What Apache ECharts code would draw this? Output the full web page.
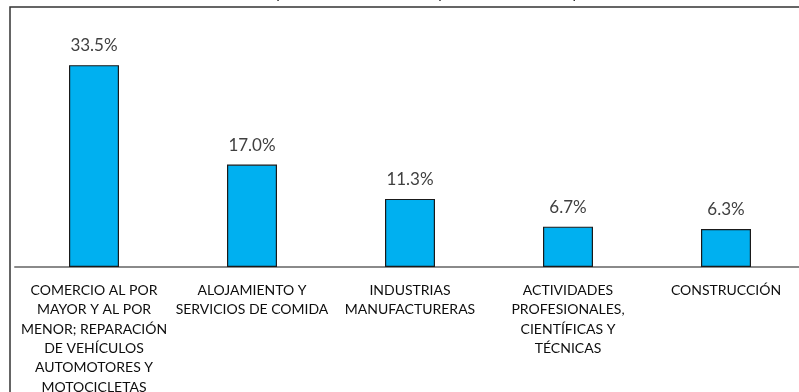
<!DOCTYPE html>
<html>
<head>
<meta charset="utf-8">
<script src="https://cdn.jsdelivr.net/npm/echarts@6/dist/echarts.min.js"></script>
<style>
html,body{margin:0;padding:0;background:#fff;overflow:hidden;width:799px;height:392px;}
#chart{width:820px;height:392px;}
</style>
</head>
<body>
<div id="chart"></div>
<script>
const titleText = "Gráfico 4: Actividades con mayor número de unidades productivas creadas por actividad económica";
const categories = [
  "COMERCIO AL POR\nMAYOR Y AL POR\nMENOR; REPARACIÓN\nDE VEHÍCULOS\nAUTOMOTORES Y\nMOTOCICLETAS",
  "ALOJAMIENTO Y\nSERVICIOS DE COMIDA",
  "INDUSTRIAS\nMANUFACTURERAS",
  "ACTIVIDADES\nPROFESIONALES,\nCIENTÍFICAS Y\nTÉCNICAS",
  "CONSTRUCCIÓN"
];
const values = [33.5, 17.0, 11.3, 6.7, 6.3];

const FONT = "Lato, 'Open Sans', sans-serif";
const chart = echarts.init(document.getElementById('chart'), null, {renderer:'canvas'});
chart.setOption({
  animation:false,
  title:{
    text:titleText, left:75, top:-19,
    textStyle:{fontFamily:FONT, fontSize:15, fontWeight:'normal', color:'#222'}
  },
  graphic:[{
    type:'rect', z:-1,
    shape:{x:10, y:7, width:840, height:420},
    style:{fill:'none', stroke:'#333', lineWidth:1.5}
  }],
  grid:{left:15, width:790, top:26, height:241, containLabel:false, outerBoundsMode:'none'},
  xAxis:{
    type:'category', data:categories,
    axisLine:{show:true, lineStyle:{color:'#8a8a8a', width:2}},
    axisTick:{show:false},
    axisLabel:{interval:0, margin:14, color:'#0d0d0d', fontFamily:FONT, fontSize:14, lineHeight:19.3, align:'center'}
  },
  yAxis:{
    type:'value', min:0, max:40, show:false,
    splitLine:{show:false}
  },
  series:[{
    type:'bar', data:values, barWidth:50,
    itemStyle:{color:'#00B0F0', borderColor:'#1a1a1a', borderWidth:1.2},
    label:{show:true, position:'top', distance:11, color:'#404040', fontFamily:FONT, fontSize:17,
      formatter:p=>p.value.toFixed(1)+'%'}
  }]
});
</script>
</body>
</html>
